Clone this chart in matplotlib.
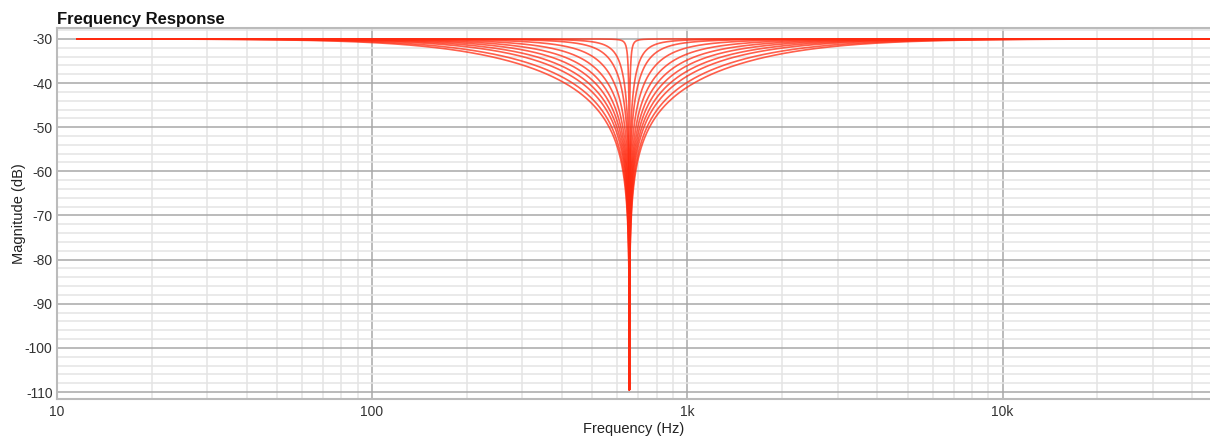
import matplotlib
matplotlib.use("Agg")
import matplotlib.pyplot as plt
import numpy as np
from matplotlib.ticker import FixedLocator, FixedFormatter, NullFormatter

# Notch filter family
F0_HZ = 655.0                  # notch centre
BASE_DB = -30.0                # pass-band level
FLOOR_DB = -109.5              # deepest plotted point
Q_VALUES = [0.34, 0.39, 0.47, 0.55, 0.66, 0.81, 1.05, 1.5, 2.5, 4.5, 30.0]
F_START, F_END = 11.6, 46000.0

X_TICKS = [10, 100, 1000, 10000]
X_LABELS = ["10", "100", "1k", "10k"]
Y_TICKS = [-30, -40, -50, -60, -70, -80, -90, -100, -110]

plt.rcParams["font.family"] = ["Liberation Sans", "DejaVu Sans"]
plt.rcParams["axes.unicode_minus"] = False

freqs = np.geomspace(F_START, F_END, 6000)
freqs = np.sort(np.append(freqs, F0_HZ))

fig = plt.figure(figsize=(12.1, 4.4), dpi=100)
ax = fig.add_axes([0.0469, 0.0925, 0.9531, 0.8432])

for q in Q_VALUES:
    x = freqs / F0_HZ
    num = np.abs(1 - x ** 2)
    den = np.sqrt((1 - x ** 2) ** 2 + (x / q) ** 2)
    with np.errstate(divide="ignore"):
        db = BASE_DB + 20 * np.log10(num / den)
    db = np.maximum(db, FLOOR_DB)
    ax.plot(freqs, db, color="#ff2a10", lw=1.2, alpha=0.75, zorder=3)

ax.set_xscale("log")
ax.set_xlim(10, 45500)
ax.set_ylim(-111.65, -27.6)

ax.xaxis.set_major_locator(FixedLocator(X_TICKS))
ax.xaxis.set_major_formatter(FixedFormatter(X_LABELS))
ax.xaxis.set_minor_locator(FixedLocator([m * 10 ** e for e in range(1, 5) for m in range(2, 10)]))
ax.xaxis.set_minor_formatter(NullFormatter())
ax.yaxis.set_major_locator(FixedLocator(Y_TICKS))
ax.yaxis.set_minor_locator(FixedLocator(np.arange(-110, -27, 2)))

ax.grid(which="major", color="#a8a8a8", lw=1.1, zorder=1)
ax.grid(which="minor", color="#e4e4e4", lw=1.1, zorder=0)
ax.tick_params(which="both", length=0, labelsize=10, colors="#333333", pad=3)
ax.tick_params(axis="x", pad=4)

for side in ["top", "bottom", "left"]:
    ax.spines[side].set_color("#bbbbbb")
    ax.spines[side].set_linewidth(1.5)
ax.spines["right"].set_visible(False)

ax.set_xlabel("Frequency (Hz)", fontsize=10.5, color="#222222", labelpad=2)
ax.set_ylabel("Magnitude (dB)", fontsize=10.5, color="#222222")
ax.yaxis.set_label_coords(-0.027, 0.5)
fig.text(0.0469, 0.945, "Frequency Response", fontsize=12, fontweight="bold", color="#111111")

fig.savefig("out.png", dpi=100)
